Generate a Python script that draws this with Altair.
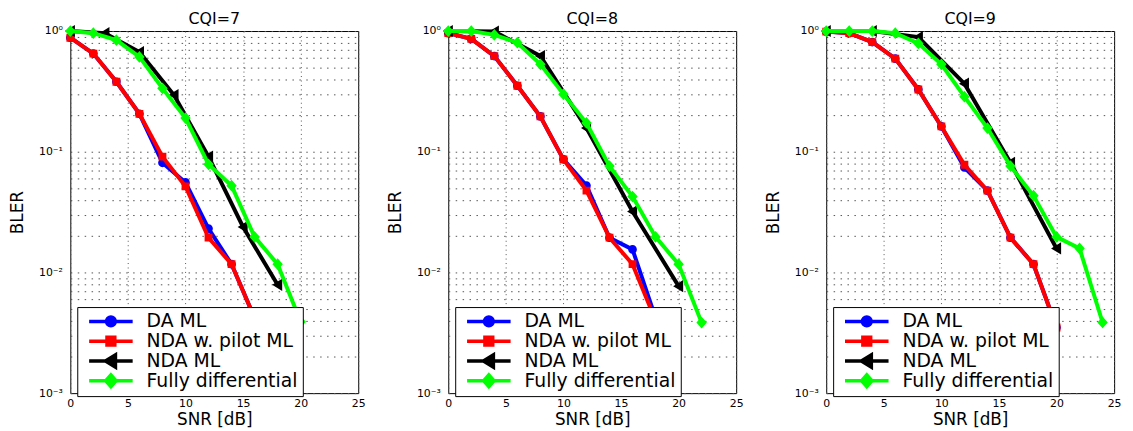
import altair as alt
import pandas as pd

SERIES = ["DA ML", "NDA w. pilot ML", "NDA ML", "Fully differential"]
COLORS = ["#0000ff", "#ff0000", "#000000", "#00ff00"]

TITLES = ["CQI=7", "CQI=8", "CQI=9"]

snr7_da = [0, 2, 4, 6, 8, 10, 12, 14, 16]
bler7_da = [0.88, 0.65, 0.38, 0.206, 0.081, 0.0557, 0.0231, 0.0117, 0.0042]
bler7_ndap = [0.88, 0.65, 0.38, 0.206, 0.091, 0.0516, 0.0194, 0.0117, 0.0042]
snr7_nda = [0, 3, 6, 9, 12, 15, 18]
bler7_nda = [1.0, 0.96, 0.67, 0.295, 0.091, 0.0238, 0.0079]
snr7_fd = [0, 2, 4, 6, 8, 10, 12, 14, 16, 18, 20]
bler7_fd = [1.0, 0.96, 0.84, 0.61, 0.335, 0.19, 0.0787, 0.0523, 0.0197, 0.0117, 0.0039]

snr8_da = [0, 2, 4, 6, 8, 10, 12, 14, 16, 18]
bler8_da = [0.96, 0.86, 0.62, 0.352, 0.196, 0.0865, 0.0524, 0.0194, 0.0155, 0.0042]
bler8_ndap = [0.96, 0.86, 0.62, 0.352, 0.196, 0.0865, 0.0476, 0.0194, 0.0117, 0.004]
snr8_nda = [0, 4, 8, 12, 16, 20]
bler8_nda = [1.0, 0.99, 0.62, 0.157, 0.032, 0.0077]
snr8_fd = [0, 2, 4, 6, 8, 10, 12, 14, 16, 18, 20, 22]
bler8_fd = [1.0, 1.0, 0.93, 0.80, 0.53, 0.30, 0.173, 0.076, 0.0425, 0.0197, 0.0117, 0.00384]

snr9_da = [0, 2, 4, 6, 8, 10, 12, 14, 16, 18, 20]
bler9_da = [0.99, 0.96, 0.81, 0.59, 0.328, 0.162, 0.074, 0.0476, 0.0194, 0.0117, 0.0035]
bler9_ndap = [0.99, 0.96, 0.81, 0.59, 0.328, 0.162, 0.078, 0.0476, 0.0194, 0.0117, 0.0035]
snr9_nda = [0, 4, 8, 12, 16, 20]
bler9_nda = [1.0, 1.0, 0.89, 0.366, 0.081, 0.0158]
snr9_fd = [0, 2, 4, 6, 8, 10, 12, 14, 16, 18, 20, 22, 24]
bler9_fd = [1.0, 1.0, 1.0, 0.96, 0.79, 0.53, 0.286, 0.157, 0.076, 0.0432, 0.0197, 0.0158, 0.00385]

PANEL_DATA = [
    [(snr7_da, bler7_da), (snr7_da, bler7_ndap), (snr7_nda, bler7_nda), (snr7_fd, bler7_fd)],
    [(snr8_da, bler8_da), (snr8_da, bler8_ndap), (snr8_nda, bler8_nda), (snr8_fd, bler8_fd)],
    [(snr9_da, bler9_da), (snr9_da, bler9_ndap), (snr9_nda, bler9_nda), (snr9_fd, bler9_fd)],
]

X_TICKS = [0, 5, 10, 15, 20, 25]
Y_TICKS = [0.001, 0.002, 0.003, 0.004, 0.005, 0.006, 0.007, 0.008, 0.009,
           0.01, 0.02, 0.03, 0.04, 0.05, 0.06, 0.07, 0.08, 0.09,
           0.1, 0.2, 0.3, 0.4, 0.5, 0.6, 0.7, 0.8, 0.9, 1.0]

FONT = "DejaVu Sans"

# marker shapes: a horizontal stub (only visible when stroked, i.e. in the legend)
# plus the filled marker itself
MARKERS = [
    "M-1,0H1M0.2,0A0.2,0.2,0,1,1,-0.2,0A0.2,0.2,0,1,1,0.2,0Z",
    "M-1,0H1M-0.18,-0.18H0.18V0.18H-0.18Z",
    "M-1,0H1M-0.25,0L0.21,-0.28L0.21,0.28Z",
    "M-1,0H1M0,-0.27L0.24,0L0,0.27L-0.24,0Z",
]
MARKER_SIZE = 1936

y_label_expr = ("datum.value == 1 ? '10⁰' : datum.value == 0.1 ? '10⁻¹' : "
                "datum.value == 0.01 ? '10⁻²' : datum.value == 0.001 ? '10⁻³' : ''")


def make_panel(title, series_data):
    rows = []
    for name, (xs, ys) in zip(SERIES, series_data):
        for xv, yv in zip(xs, ys):
            rows.append({"series": name, "snr": xv, "bler": yv})
    df = pd.DataFrame(rows)

    x = alt.X("snr:Q", scale=alt.Scale(domain=[0, 25], nice=False),
              axis=alt.Axis(values=X_TICKS, format="d", title="SNR [dB]",
                            grid=True, gridDash=[1, 3.5], gridColor="#555",
                            ticks=False, domain=False, labelFlush=False,
                            labelFont=FONT, labelFontSize=11, labelColor="black",
                            labelPadding=5, titleFont=FONT, titleFontSize=17,
                            titleFontWeight="normal", titleColor="black",
                            titlePadding=3))
    y = alt.Y("bler:Q", scale=alt.Scale(type="log", domain=[0.001, 1], nice=False),
              axis=alt.Axis(values=Y_TICKS, labelExpr=y_label_expr, title="BLER",
                            grid=True, gridDash=[1.5, 5.5], gridColor="#555",
                            ticks=False, domain=False, labelOverlap=False,
                            labelFont=FONT, labelFontSize=11, labelColor="black",
                            labelPadding=8, titleFont=FONT, titleFontSize=17,
                            titleFontWeight="normal", titleColor="black",
                            titlePadding=12))
    legend = alt.Legend(
        title=None, orient="none", legendX=7, legendY=279,
        fillColor="white", strokeColor="black", padding=5,
        labelFont=FONT, labelFontSize=19, labelColor="black",
        symbolSize=MARKER_SIZE, symbolStrokeWidth=3.5, clipHeight=19, rowPadding=0,
        symbolOffset=5, labelOffset=12, zindex=1,
    )
    color = alt.Color("series:N", scale=alt.Scale(domain=SERIES, range=COLORS),
                      legend=legend)
    shape = alt.Shape("series:N", scale=alt.Scale(domain=SERIES, range=MARKERS),
                      legend=legend)

    layers = []
    for s in SERIES:
        base = alt.Chart(df).transform_filter(alt.datum.series == s)
        layers.append(base.mark_line(strokeWidth=4).encode(
            x=x, y=y, color=color, order="snr:Q"))
        layers.append(base.mark_point(filled=True, size=MARKER_SIZE, opacity=1).encode(
            x=x, y=y, color=color, shape=shape))
    return alt.layer(*layers).properties(
        width=291, height=366,
        title=alt.TitleParams(title, font=FONT, fontSize=16, fontWeight="normal",
                              color="black", offset=-4, anchor="middle", frame="group"),
    )


panels = [make_panel(t, d) for t, d in zip(TITLES, PANEL_DATA)]

chart = alt.hconcat(*panels, spacing=91, bounds="flush").resolve_scale(
    color="independent", shape="independent"
).properties(
    padding={"left": 0, "top": 0, "right": 0, "bottom": 0}
).configure_view(stroke="black", strokeWidth=1)

chart.save("out.html", embed_options={"renderer": "svg", "actions": False})
